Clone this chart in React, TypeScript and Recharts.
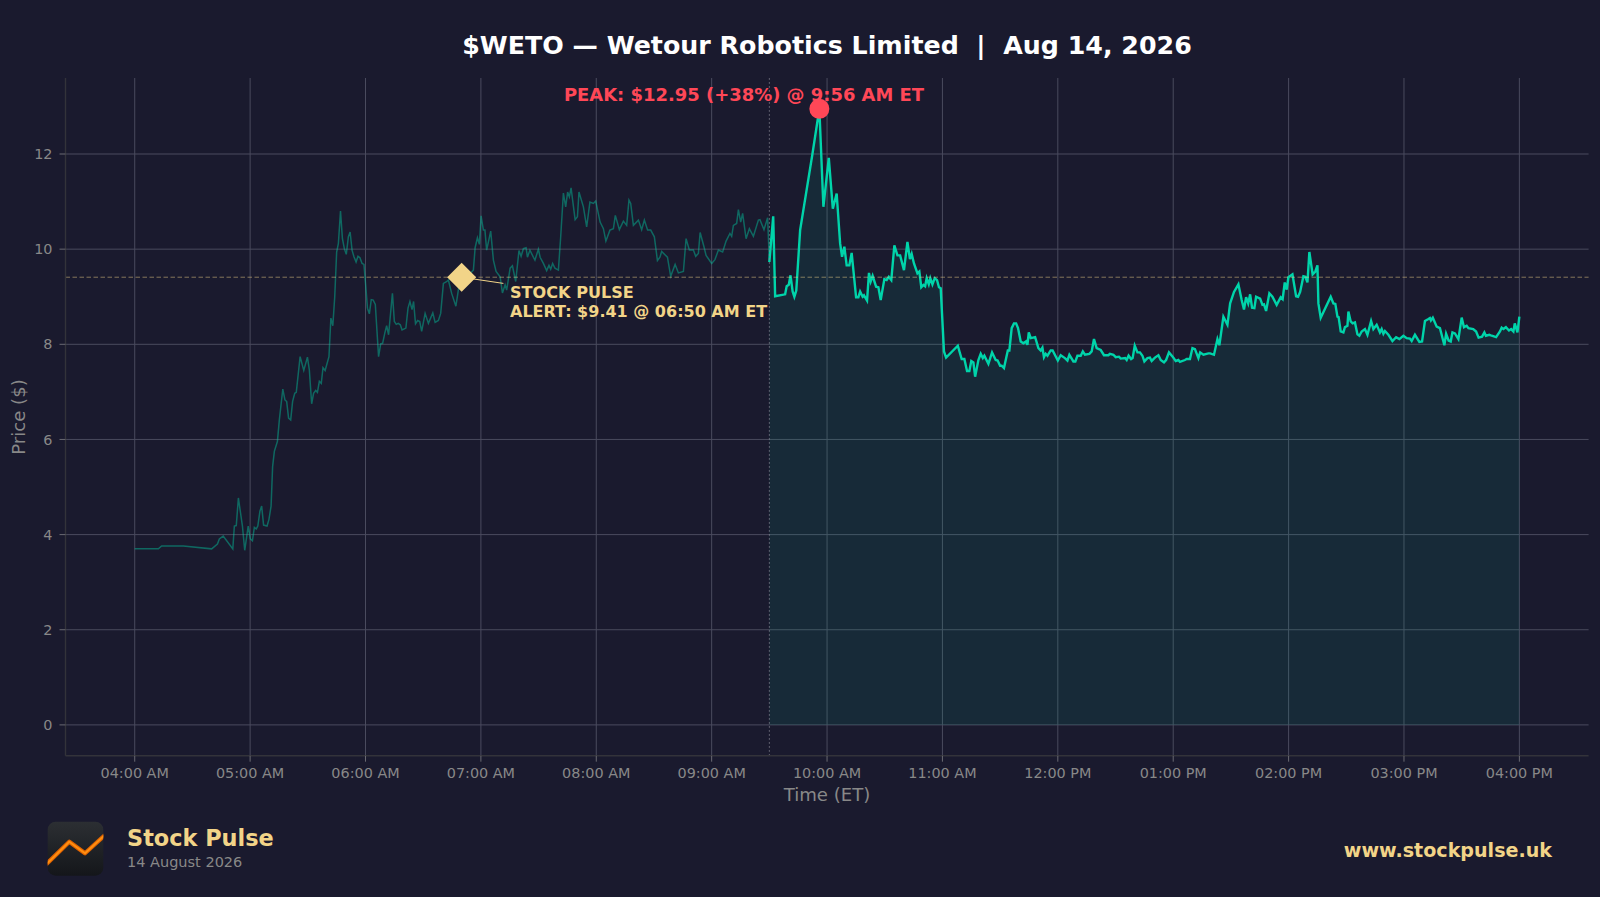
import React from "react";
import { ComposedChart, Line, Area, XAxis, YAxis, CartesianGrid, ReferenceLine, ReferenceDot } from "recharts";

const BG = "#1a1a2e";
const TEAL = "#00d4aa";
const GOLD = "#f2d488";
const RED = "#ff4757";
const GRID = "#4a4b5e";
const SPINE = "#33333a";
const TICKTXT = "#888888";
const FONT = "'DejaVu Sans', sans-serif";

const hourTicks = [0, 60, 120, 180, 240, 300, 360, 420, 480, 540, 600, 660, 720];
const hourLabels = ["04:00 AM", "05:00 AM", "06:00 AM", "07:00 AM", "08:00 AM", "09:00 AM", "10:00 AM", "11:00 AM", "12:00 PM", "01:00 PM", "02:00 PM", "03:00 PM", "04:00 PM"];
const priceTicks = [0, 2, 4, 6, 8, 10, 12];

const preMinutes = [0, 12.3, 14, 25.3, 40, 43, 44, 46, 51, 51.8, 52.8, 53.9, 56, 57.2, 59, 60.1, 61.2, 62.2, 63.2, 64, 65.1, 66, 67, 68.8, 69.8, 70.9, 71.7, 72.6, 74.2, 75.2, 77, 78.1, 79, 80, 81.1, 82.1, 83.2, 84, 86, 87.9, 89.8, 90.8, 92, 93, 94.1, 95, 96, 97, 97.9, 99, 101, 102, 103, 104, 105, 105.9, 107, 108, 109, 110, 111.1, 112, 113, 114, 115.1, 116.1, 117.1, 118.2, 119.2, 120.3, 121, 122, 123, 124, 125.1, 126.8, 127.9, 128.9, 130, 131, 132, 134, 135, 136, 137, 138.1, 139, 141, 142.1, 143.1, 144.2, 145, 146, 147.1, 148.2, 149.2, 151, 152.7, 155, 156.2, 157.9, 159.1, 160.5, 161.9, 163.1, 164.8, 167, 168.8, 170, 172, 174.4, 176.1, 177, 178.2, 179.2, 180.1, 181.3, 182.1, 183, 185.1, 186.5, 187.9, 190, 191.2, 192.6, 193.4, 195.2, 196.4, 198.1, 199.8, 200.9, 202.1, 203.5, 204.2, 205.5, 207.3, 208.1, 209.9, 210.8, 212.5, 214.2, 215.4, 216.3, 217.3, 218.5, 220.3, 221.5, 222.9, 224.1, 225.1, 226, 226.9, 227.7, 229, 230.2, 231, 233.3, 235, 236.7, 238.5, 239.7, 242, 243.7, 245, 247.1, 248.9, 249.9, 252, 254.1, 255.8, 257, 257.9, 259.3, 261.9, 263.6, 265, 266.7, 268.3, 270.2, 271.8, 273.1, 274, 277, 278.7, 281, 282.7, 285.3, 286.7, 288.4, 290.5, 291.7, 293.1, 294, 296, 297.1, 300, 301.7, 303.5, 305.7, 307.5, 309.5, 310.4, 311.3, 313, 313.9, 315.1, 316.1, 317.9, 319.6, 321.7, 324.3, 325.1, 327.2, 329.1, 330];
const prePrices = [3.7, 3.7, 3.76, 3.76, 3.7, 3.8, 3.91, 3.97, 3.7, 4.18, 4.19, 4.77, 4.18, 3.67, 4.18, 3.91, 3.87, 4.15, 4.12, 4.18, 4.49, 4.6, 4.2, 4.18, 4.32, 4.6, 5.43, 5.75, 5.96, 6.41, 7.06, 6.83, 6.8, 6.45, 6.41, 6.8, 6.97, 6.99, 7.74, 7.45, 7.73, 7.46, 6.75, 6.97, 7.03, 6.99, 7.22, 7.18, 7.51, 7.45, 7.74, 8.55, 8.39, 9.0, 9.94, 10.12, 10.8, 10.22, 10.01, 9.89, 10.26, 10.36, 9.98, 9.84, 9.73, 9.85, 9.82, 9.7, 9.68, 9.14, 8.76, 8.64, 8.94, 8.93, 8.84, 7.74, 8.01, 8.02, 8.23, 8.39, 8.2, 9.07, 8.48, 8.42, 8.44, 8.41, 8.3, 8.34, 8.76, 8.9, 8.73, 8.9, 8.43, 8.5, 8.48, 8.27, 8.65, 8.44, 8.66, 8.46, 8.5, 8.65, 9.28, 9.31, 9.35, 9.07, 8.8, 9.28, 9.41, 9.45, 9.49, 9.56, 10.03, 10.24, 10.1, 10.7, 10.4, 10.4, 9.98, 10.38, 9.77, 9.53, 9.42, 9.08, 9.25, 9.14, 9.6, 9.65, 9.32, 9.97, 9.85, 10.01, 10.03, 9.83, 9.98, 9.83, 9.77, 10.0, 9.83, 9.7, 9.55, 9.66, 9.58, 9.7, 9.6, 9.56, 10.26, 11.18, 10.89, 11.2, 11.1, 11.29, 11.03, 10.62, 10.68, 11.2, 10.89, 10.47, 10.99, 10.96, 11.01, 10.57, 10.43, 10.17, 10.4, 10.43, 10.71, 10.41, 10.59, 10.5, 11.03, 10.96, 10.5, 10.61, 10.41, 10.61, 10.4, 10.4, 10.26, 9.76, 9.83, 9.95, 9.83, 9.43, 9.68, 9.5, 9.53, 10.22, 9.98, 9.98, 9.85, 9.91, 10.35, 10.05, 9.87, 9.7, 9.78, 9.98, 9.94, 10.17, 10.33, 10.27, 10.5, 10.54, 10.83, 10.57, 10.75, 10.22, 10.43, 10.27, 10.61, 10.62, 10.41, 10.66, 9.73];

const mktMinutes = [330, 332, 333, 338.2, 339, 340.1, 341, 342.1, 343, 344, 346, 352.4, 356, 358.1, 360.9, 363, 365, 366.8, 367.8, 369, 370.2, 371.6, 372.8, 375.1, 376.3, 377.2, 378.5, 379.2, 380.8, 381.8, 382.7, 383.7, 385.5, 386.7, 387.9, 389.8, 391, 392.1, 393.4, 395, 396.6, 398, 400, 401.8, 403.1, 404, 405.2, 407, 408, 409, 410.1, 411, 411.8, 412.9, 413.7, 414.8, 416, 417.2, 418.2, 419.1, 420.8, 421.9, 428, 430, 431.4, 432.8, 434, 435, 436.1, 437, 438.7, 439.9, 441, 441.8, 443.9, 445.8, 447.7, 448.7, 450, 450.8, 452, 454, 454.8, 456, 457.2, 458.3, 459.3, 460.7, 462.1, 463.5, 464.2, 464.9, 465.9, 468.2, 469.9, 471.1, 472, 472.8, 473.7, 474.6, 476.3, 477.3, 480, 481.5, 483.7, 485, 486, 488.1, 489.1, 490.2, 491.9, 493, 494.1, 496.4, 497.6, 498.8, 500.2, 502.3, 504, 506.3, 507.1, 508.9, 510.1, 511.8, 512.7, 515, 515.8, 516.8, 518.1, 518.9, 520, 521.4, 522.7, 524, 525, 526.6, 527.9, 528.8, 530.5, 532.3, 533.5, 535.2, 536.3, 537.8, 539.7, 541.3, 542.7, 543.5, 546.1, 547, 548.7, 550, 551.3, 553.1, 554, 555.7, 558.3, 559.2, 561.2, 563, 564, 566.1, 568.2, 569.6, 571.6, 573.9, 575.6, 576.8, 577.9, 579, 580, 581, 582.2, 583.1, 585.2, 586.4, 587.2, 588.3, 590, 591.6, 593.8, 595.9, 596.9, 598, 599, 599.9, 602, 603.9, 604.9, 606, 607.7, 608.7, 609.8, 610.8, 612.5, 613.9, 615, 615.5, 616.7, 621.9, 623.3, 624.3, 625.4, 626, 627.1, 628.5, 629.3, 630.6, 631.1, 632.3, 633.3, 634.5, 635.8, 636.8, 638, 639.7, 641, 642.9, 644.1, 645.8, 647.5, 648.4, 649.3, 650.1, 651.9, 654, 655.9, 657.6, 659.7, 661.4, 663.1, 664, 665.7, 668, 669.4, 670.9, 672.7, 673.5, 674, 675, 677, 678.7, 681, 681.9, 683.2, 684.3, 685.2, 686.5, 688.3, 690, 691.2, 692.6, 693.5, 696, 697.5, 698.8, 700.6, 701.8, 702.6, 704.4, 705.6, 707.9, 709.9, 710.8, 711.7, 713, 714.6, 715.7, 716.9, 717.6, 719, 720];
const mktPrices = [9.73, 10.69, 9.01, 9.05, 9.22, 9.25, 9.45, 9.11, 9.0, 9.13, 10.4, 12.0, 12.95, 10.89, 11.92, 10.85, 11.17, 10.12, 9.84, 10.05, 9.66, 9.66, 9.92, 8.99, 8.99, 9.11, 9.0, 9.03, 8.92, 9.5, 9.32, 9.44, 9.21, 9.2, 8.93, 9.37, 9.35, 9.42, 9.35, 10.08, 9.87, 9.87, 9.56, 10.15, 9.79, 9.9, 9.7, 9.49, 9.53, 9.2, 9.25, 9.22, 9.39, 9.26, 9.39, 9.26, 9.39, 9.35, 9.2, 9.18, 7.85, 7.72, 7.97, 7.69, 7.69, 7.44, 7.44, 7.65, 7.62, 7.32, 7.67, 7.8, 7.71, 7.76, 7.59, 7.83, 7.67, 7.66, 7.55, 7.55, 7.5, 7.87, 7.87, 8.34, 8.44, 8.44, 8.34, 8.06, 8.02, 8.06, 7.99, 8.25, 8.13, 8.15, 7.92, 7.87, 7.93, 7.73, 7.8, 7.76, 7.87, 7.87, 7.66, 7.77, 7.71, 7.66, 7.78, 7.64, 7.64, 7.76, 7.76, 7.85, 7.78, 7.8, 7.85, 8.11, 7.92, 7.88, 7.77, 7.77, 7.8, 7.78, 7.73, 7.74, 7.7, 7.71, 7.67, 7.76, 7.69, 7.71, 7.97, 7.83, 7.83, 7.76, 7.64, 7.71, 7.72, 7.65, 7.72, 7.77, 7.67, 7.62, 7.67, 7.83, 7.74, 7.65, 7.67, 7.63, 7.67, 7.69, 7.69, 7.92, 7.9, 7.71, 7.83, 7.78, 7.81, 7.81, 7.78, 8.11, 7.98, 8.58, 8.41, 8.86, 9.1, 9.26, 8.93, 8.73, 8.99, 8.86, 9.05, 8.77, 8.76, 9.0, 8.96, 8.83, 8.84, 8.7, 9.07, 9.0, 8.83, 8.99, 8.95, 9.3, 9.15, 9.41, 9.47, 9.01, 9.0, 9.1, 9.43, 9.42, 9.3, 9.94, 9.47, 9.53, 9.66, 8.86, 8.56, 9.0, 8.86, 8.85, 8.58, 8.57, 8.27, 8.25, 8.36, 8.39, 8.69, 8.48, 8.44, 8.46, 8.21, 8.18, 8.27, 8.32, 8.2, 8.49, 8.32, 8.41, 8.25, 8.32, 8.22, 8.28, 8.2, 8.07, 8.15, 8.11, 8.18, 8.13, 8.12, 8.07, 8.2, 8.05, 8.06, 8.49, 8.53, 8.55, 8.5, 8.56, 8.37, 8.34, 7.98, 8.22, 8.08, 8.06, 8.25, 8.23, 8.11, 8.56, 8.36, 8.39, 8.34, 8.32, 8.27, 8.14, 8.16, 8.25, 8.18, 8.2, 8.18, 8.15, 8.27, 8.35, 8.32, 8.36, 8.29, 8.32, 8.27, 8.44, 8.25, 8.58];

const alertMinute = 170;
const alertPrice = 9.41;
const peakMinute = 356;
const peakPrice = 12.95;
const openMinute = 330;

const rows = [
  ...preMinutes.map((t, i) => ({ t, pre: prePrices[i] })),
  ...mktMinutes.map((t, i) => ({ t, mkt: mktPrices[i] })),
];

const hourTickFormatter = (v: number) => hourLabels[hourTicks.indexOf(v)];

const Diamond = (props: any) => {
  const { cx, cy } = props;
  const r = 14.5;
  return <polygon points={`${cx},${cy - r} ${cx + r},${cy} ${cx},${cy + r} ${cx - r},${cy}`} fill={GOLD} />;
};

export default function App() {
  return (
    <div style={{ position: "absolute", left: 0, top: 0, width: 1600, height: 897, background: BG, overflow: "hidden", fontFamily: FONT }}>
      <style>{`html,body{margin:0;background:${BG}}`}</style>
      <ComposedChart
        width={1600}
        height={897}
        data={rows}
        margin={{ top: 78, right: 11.4, bottom: 101.3, left: 0 }}
        style={{ position: "absolute", left: 0, top: 0 }}
      >
        <CartesianGrid stroke={GRID} strokeWidth={1} horizontalValues={priceTicks} verticalValues={hourTicks} />
        <XAxis
          dataKey="t"
          type="number"
          domain={[-36, 756]}
          ticks={hourTicks}
          tickFormatter={hourTickFormatter}
          interval={0}
          height={40}
          allowDataOverflow
          stroke={SPINE}
          strokeWidth={1.4}
          tick={{ fill: TICKTXT, fontSize: 14.4, fontFamily: FONT }}
          tickLine={{ stroke: "#6a6a72", strokeWidth: 1 }}
          tickSize={6}
          tickMargin={6}
        />
        <YAxis
          type="number"
          domain={[-0.6475, 13.5975]}
          ticks={priceTicks}
          width={65.5}
          allowDataOverflow
          stroke={SPINE}
          strokeWidth={1.4}
          tick={{ fill: TICKTXT, fontSize: 14.4, fontFamily: FONT }}
          tickLine={{ stroke: "#6a6a72", strokeWidth: 1 }}
          tickSize={6}
          tickMargin={7}
        />
        <Area dataKey="mkt" type="linear" baseValue={0} fill={TEAL} fillOpacity={0.09} stroke="none" connectNulls isAnimationActive={false} dot={false} activeDot={false} />
        <Line dataKey="pre" type="linear" stroke={TEAL} strokeOpacity={0.42} strokeWidth={1.5} connectNulls isAnimationActive={false} dot={false} activeDot={false} />
        <Line dataKey="mkt" type="linear" stroke={TEAL} strokeWidth={2.4} connectNulls isAnimationActive={false} dot={false} activeDot={false} />
        <ReferenceLine y={alertPrice} stroke={GOLD} strokeOpacity={0.5} strokeWidth={1} strokeDasharray="4.5 2.5" />
        <ReferenceLine x={openMinute} stroke="#8a8a96" strokeOpacity={0.8} strokeWidth={1} strokeDasharray="1.5 2.5" />
        <ReferenceLine segment={[{ x: alertMinute, y: alertPrice }, { x: 191.7, y: 9.28 }]} stroke={GOLD} strokeWidth={1} />
        <ReferenceDot x={alertMinute} y={alertPrice} shape={Diamond} isFront />
        <ReferenceDot x={peakMinute} y={peakPrice} r={10} fill={RED} stroke="none" isFront />
      </ComposedChart>

      <svg width={1600} height={897} style={{ position: "absolute", left: 0, top: 0, pointerEvents: "none" }} fontFamily={FONT}>
        <text x={827} y={47} textAnchor="middle" dominantBaseline="middle" fill="#ffffff" fontSize={25.3} fontWeight={700} style={{ whiteSpace: "pre" }}>$WETO — Wetour Robotics Limited  |  Aug 14, 2026</text>
        <text x={744} y={95.6} textAnchor="middle" dominantBaseline="middle" fill={RED} fontSize={17.96} fontWeight={700}>PEAK: $12.95 (+38%) @ 9:56 AM ET</text>
        <text x={510} y={298} fill={GOLD} fontSize={16.1} fontWeight={700}>STOCK PULSE</text>
        <text x={510} y={317.4} fill={GOLD} fontSize={16} fontWeight={700}>ALERT: $9.41 @ 06:50 AM ET</text>
        <text x={827} y={801} textAnchor="middle" fill={TICKTXT} fontSize={18.1}>Time (ET)</text>
        <text transform="translate(25 417) rotate(-90)" textAnchor="middle" fill={TICKTXT} fontSize={18.1}>Price ($)</text>
        <text x={127} y={846} fill={GOLD} fontSize={22.4} fontWeight={700}>Stock Pulse</text>
        <text x={127} y={867} fill={TICKTXT} fontSize={14.5}>14 August 2026</text>
        <text x={1552} y={857} textAnchor="end" fill={GOLD} fontSize={19.1} fontWeight={700}>www.stockpulse.uk</text>
        <defs>
          <linearGradient id="logoBg" x1="0" y1="0" x2="0" y2="1">
            <stop offset="0" stopColor="#2c2f33" />
            <stop offset="1" stopColor="#14161a" />
          </linearGradient>
          <clipPath id="logoClip"><rect x={47.7} y={821.7} width={55.6} height={54} rx={8} /></clipPath>
        </defs>
        <rect x={47.7} y={821.7} width={55.6} height={54} rx={8} fill="url(#logoBg)" />
        <g clipPath="url(#logoClip)" fill="none" strokeLinejoin="round">
          <polyline points="45,865.5 69.3,841.7 85,853.3 105,835" stroke="#e06200" strokeWidth={4.2} />
          <polyline points="45,865.5 69.3,841.7 85,853.3 105,835" stroke="#ff8f10" strokeWidth={2} />
        </g>
      </svg>
    </div>
  );
}
